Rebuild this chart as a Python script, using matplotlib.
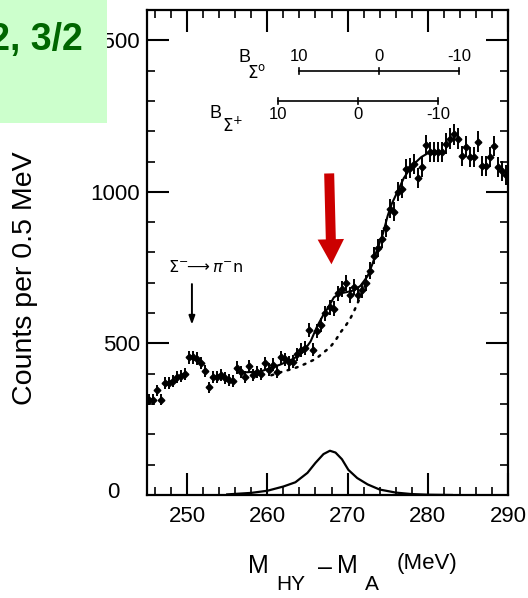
import numpy as np
import matplotlib
matplotlib.use("Agg")
import matplotlib.pyplot as plt
from matplotlib.patches import Rectangle, FancyArrowPatch
from matplotlib.ticker import MultipleLocator

plt.rcParams['font.family'] = ['Liberation Sans', 'DejaVu Sans']

# ---------------- data ----------------
bin_start = 245.25
bin_width = 0.5
counts = [315, 315, 345, 315, 370, 370, 375, 390, 392, 400,
          455, 455, 450, 435, 410, 355, 388, 390, 395, 385,
          380, 375, 420, 405, 390, 424, 397, 407, 400, 435,
          414, 430, 405, 455, 448, 438, 440, 465, 478, 485,
          545, 480, 540, 560, 600, 620, 615, 665, 680, 700,
          660, 685, 660, 675, 700, 740, 790, 815, 845, 880,
          945, 935, 1000, 1010, 1076, 1080, 1093, 1045, 1083, 1155,
          1132, 1132, 1132, 1132, 1159, 1176, 1190, 1176, 1119, 1149,
          1116, 1116, 1166, 1086, 1086, 1116, 1152, 1083, 1070, 1055]

fit_x = [256.6, 259.1, 261.6, 263.3, 264.5, 265.4, 266.2, 267.0, 267.5, 268.3,
         269.1, 270.0, 270.8, 271.6, 272.5, 273.1, 273.7, 274.4, 275.0, 275.5,
         276.3, 277.0, 278.0, 279.2, 280.5]
fit_y = [404, 407, 430, 450, 473, 507, 556, 595, 615, 652,
         665, 670, 675, 690, 722, 762, 811, 861, 921, 960,
         1005, 1045, 1085, 1115, 1135]

bg_x = [260.5, 261.9, 263.0, 264.0, 265.1, 266.1, 267.0, 267.8, 268.5, 269.1,
        269.7, 270.3, 270.8, 271.3, 271.8, 272.3]
bg_y = [395, 407, 415, 424, 437, 450, 470, 487, 510, 536,
        556, 580, 606, 636, 665, 700]

peak_x = [255, 258, 260, 262, 263.5, 265, 266, 267, 267.8, 268.5,
          269.3, 270.1, 271.2, 272.5, 274, 276, 278, 280, 283]
peak_y = [2, 7, 14, 28, 42, 73, 106, 135, 146, 140,
          118, 83, 56, 35, 18, 8, 3, 1, 0]

b_labels = [10, 0, -10]
b_sigma0_zero = 273.9     # M_HY - M_A where B_Sigma0 = 0
b_sigmaplus_zero = 271.3  # M_HY - M_A where B_Sigma+ = 0
b_sigma0_level = 1400
b_sigmaplus_level = 1300

x_ticks = [250, 260, 270, 280, 290]
y_ticks = [500, 1000, 1500]

# ---------------- figure ----------------
W, H = 528, 598
fig = plt.figure(figsize=(W / 100, H / 100), dpi=100)
ax = fig.add_axes([147 / W, 1 - 495 / H, (508 - 147) / W, (495 - 10) / H])

x = bin_start + bin_width * np.arange(len(counts))
y = np.array(counts, dtype=float)
err = np.sqrt(y)
ax.errorbar(x, y, yerr=err, xerr=bin_width / 2, fmt='D', ms=3.4, color='black',
            elinewidth=1.4, capsize=0, zorder=3)

ax.plot(fit_x, fit_y, color='black', lw=1.5, zorder=2)
ax.plot(bg_x, bg_y, color='black', lw=1.8, linestyle=(0, (0.8, 2.6)),
        dash_capstyle='round', zorder=2)
ax.plot(peak_x, peak_y, color='black', lw=1.6, zorder=2)

ax.set_xlim(245, 290)
ax.set_ylim(0, 1600)
ax.set_xticks(x_ticks)
ax.set_xticklabels([str(t) for t in x_ticks])
ax.set_yticks(y_ticks)
ax.set_yticklabels([str(t) for t in y_ticks])
ax.xaxis.set_minor_locator(MultipleLocator(2))
ax.yaxis.set_minor_locator(MultipleLocator(100))
ax.tick_params(which='both', direction='in', top=True, right=True, labelsize=16)
ax.tick_params(which='major', length=15.5, width=1.5)
ax.tick_params(which='minor', length=5.5, width=1.2)
ax.tick_params(axis='x', pad=8)
ax.tick_params(axis='y', pad=5)
for s in ax.spines.values():
    s.set_linewidth(1.6)

# "0" label on the y axis (sits off the right-aligned column)
ax.annotate("0", xy=(0, 0), xycoords='axes fraction', xytext=(113 - 147, 3),
            textcoords='offset pixels', ha='center', va='center', fontsize=16)

# binding energy scales
def draw_scale(zero, level, label_dy):
    pos = [zero - b for b in b_labels]
    ax.plot([pos[0], pos[-1]], [level, level], color='black', lw=1.2)
    for p, b in zip(pos, b_labels):
        ax.plot([p, p], [level - 10, level + 10], color='black', lw=1.2)
        lab = str(b) if b >= 0 else "-" + str(-b)
        ax.text(p, level + label_dy, lab, ha='center', va='center', fontsize=12)

draw_scale(b_sigma0_zero, b_sigma0_level, 48)
draw_scale(b_sigmaplus_zero, b_sigmaplus_level, -45)
ax.text(257.2, b_sigma0_level + 42, "B", ha='center', va='center', fontsize=13)
ax.text(258.7, b_sigma0_level - 5, r"$\Sigma^{\mathrm{o}}$", ha='center', va='center', fontsize=12)
ax.text(253.6, b_sigmaplus_level - 42, "B", ha='center', va='center', fontsize=13)
ax.text(255.7, b_sigmaplus_level - 80, r"$\Sigma^{+}$", ha='center', va='center', fontsize=12)

# Sigma- -> pi- n annotation
ax.text(252.3, 752, r"$\Sigma^{-}\!\!\longrightarrow\pi^{-}\mathrm{n}$", ha='center', va='center',
        fontsize=11.5)
ax.annotate("", xy=(250.6, 553), xytext=(250.6, 705),
            arrowprops=dict(arrowstyle="-|>,head_length=0.5,head_width=0.18",
                            color='black', lw=1.4))

# red arrow
red = FancyArrowPatch((267.7, 1070), (268.0, 752),
                      arrowstyle="simple,head_length=0.9,head_width=0.95,tail_width=0.36",
                      mutation_scale=20, color='#cc0000', lw=0, zorder=4)
ax.add_patch(red)

# axis labels
def ftext(px, py, s, **kw):
    fig.text(px / W, 1 - py / H, s, ha='center', va='center', **kw)

ftext(25, 278, "Counts per 0.5 MeV", fontsize=20.5, rotation=90)
ftext(258, 566, "M", fontsize=18)
ftext(291, 585, "HY", fontsize=15)
ftext(325, 568, "\u2013", fontsize=18)
ftext(347, 566, "M", fontsize=18)
ftext(372, 585, "A", fontsize=15)
ftext(427, 564, "(MeV)", fontsize=16)

# green title box
box = Rectangle((0, 1 - 123 / H), 107 / W, 123 / H, transform=fig.transFigure,
                facecolor='#ccffcc', edgecolor='none', zorder=5)
fig.add_artist(box)
fig.text(83 / W, 1 - 50 / H, "1/2, 3/2", ha='right', va='baseline', fontsize=27,
         fontweight='bold', color='#006600', zorder=6)

fig.savefig("out.png", dpi=100)
